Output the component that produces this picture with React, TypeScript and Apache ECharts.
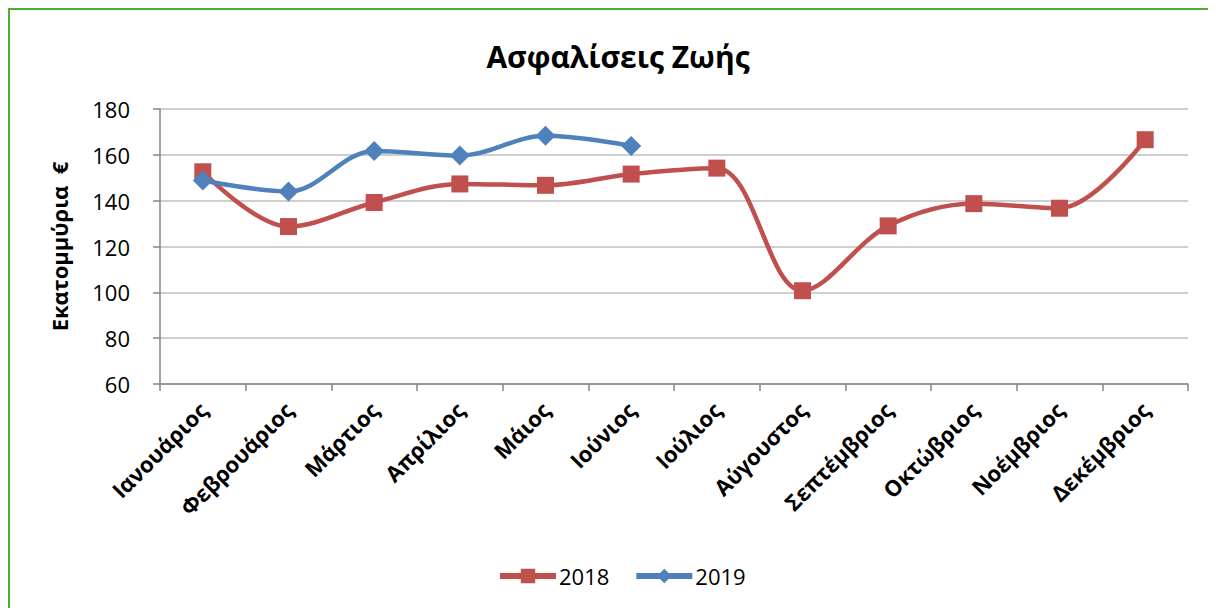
import React, { useEffect, useRef } from "react";
import * as echarts from "echarts";

const months = [
  "Ιανουάριος", "Φεβρουάριος", "Μάρτιος", "Απρίλιος", "Μάιος", "Ιούνιος",
  "Ιούλιος", "Αύγουστος", "Σεπτέμβριος", "Οκτώβριος", "Νοέμβριος", "Δεκέμβριος",
];
const values2018 = [152.6, 128.7, 139.2, 147.3, 146.7, 151.6, 154.2, 100.7, 129.0, 138.7, 136.7, 166.6];
const values2019 = [148.8, 144.0, 161.7, 159.7, 168.3, 163.9];
const chartTitle = "Ασφαλίσεις Ζωής";
const yAxisTitle = "Εκατομμύρια  €";

const FONT = "'Open Sans', 'Noto Sans', sans-serif";

export default function App() {
  const ref = useRef<HTMLDivElement>(null);
  useEffect(() => {
    if (!ref.current) return;
    const chart = echarts.init(ref.current, undefined, { renderer: "svg" });
    chart.setOption({
      animation: false,
      backgroundColor: "#ffffff",
      title: {
        text: chartTitle,
        left: 603,
        top: 26,
        textAlign: "center",
        textStyle: { fontFamily: FONT, fontSize: 30, fontWeight: "bold", color: "#000" },
      },
      legend: {
        top: 550,
        left: 482,
        itemWidth: 56,
        itemHeight: 18,
        itemGap: 24,
        lineStyle: { width: 6 },
        textStyle: { fontFamily: FONT, fontSize: 22, color: "#000", padding: [0, 0, 0, -2] },
        data: ["2018", "2019"],
      },
      grid: { left: 150, right: 48, top: 99, bottom: 246, containLabel: false },
      xAxis: {
        type: "category",
        data: months,
        boundaryGap: true,
        axisLine: { lineStyle: { color: "#868686", width: 1.5 } },
        axisTick: { show: true, length: 7, lineStyle: { color: "#868686", width: 1.5 } },
        axisLabel: {
          rotate: 45,
          margin: 22,
          interval: 0,
          fontFamily: FONT,
          fontSize: 22,
          fontWeight: "bold",
          color: "#000",
        },
      },
      yAxis: {
        type: "value",
        min: 60,
        max: 180,
        interval: 20,
        name: yAxisTitle,
        nameLocation: "middle",
        nameGap: 90,
        nameRotate: 90,
        nameTextStyle: { fontFamily: FONT, fontSize: 22, fontWeight: "bold", color: "#000" },
        axisLine: { show: true, lineStyle: { color: "#868686", width: 1.5 } },
        axisTick: { show: true, length: 7, lineStyle: { color: "#868686", width: 1.5 } },
        axisLabel: { fontFamily: FONT, fontSize: 22, color: "#000", margin: 30 },
        splitLine: { lineStyle: { color: "#bfbfbf", width: 1.5 } },
      },
      series: [
        {
          name: "2018",
          type: "line",
          data: values2018,
          smooth: 0.35,
          symbol: "rect",
          symbolSize: 17,
          itemStyle: { color: "#C0504D" },
          lineStyle: { color: "#C0504D", width: 4.5 },
        },
        {
          name: "2019",
          type: "line",
          data: values2019,
          smooth: 0.35,
          symbol: "diamond",
          symbolSize: 20,
          itemStyle: { color: "#4F81BD" },
          lineStyle: { color: "#4F81BD", width: 4.5 },
        },
      ],
    });
    return () => chart.dispose();
  }, []);
  return (
    <div
      style={{
        width: 1226,
        height: 620,
        border: "2px solid #4DAF2F",
        boxSizing: "content-box",
        background: "#fff",
      }}
    >
      <div ref={ref} style={{ width: 1226, height: 620 }} />
    </div>
  );
}
